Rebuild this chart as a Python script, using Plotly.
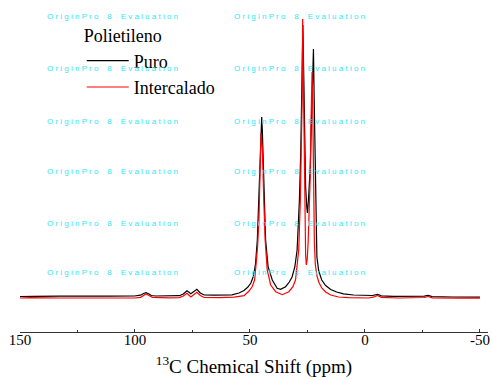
import plotly.graph_objects as go

# ---- data (ppm, intensity in a.u.) ----
puro_ppm = [150.0, 147.4, 145.7, 143.9, 132.7, 124.0, 111.0, 100.2, 97.6, 96.3, 95.2, 93.9, 92.9, 91.1,
            85.1, 80.7, 79.0, 77.4, 75.7, 74.5, 73.1, 71.6, 69.9, 65.6, 61.3, 57.8, 54.8, 52.6, 50.9,
            49.6, 48.5, 47.6, 46.8, 46.3, 45.8, 45.3, 44.9, 44.6, 44.2, 43.8, 43.2, 42.1, 40.3, 38.2,
            36.7, 34.5, 32.9, 31.7, 30.5, 29.5, 28.9, 28.5, 27.9, 27.4, 27.0, 26.6, 26.2, 25.8, 25.3,
            25.0, 24.5, 23.8, 23.4, 23.0, 22.4, 22.1, 21.7, 21.4, 20.9, 20.1, 18.8, 17.1, 14.9, 12.3,
            9.3, 5.0, -0.7, -3.2, -5.5, -7.1, -12.3, -21.0, -22.7, -24.0, -25.8, -27.5, -29.2, -38.3, -50.0]
puro_int = [0.5, 0.6, 1.2, 0.6, 0.8, 0.6, 0.8, 1.0, 1.8, 3.5, 4.3, 3.0, 1.5, 1.0,
            1.0, 1.3, 3.0, 6.3, 3.2, 5.5, 7.7, 4.0, 2.0, 1.8, 1.8, 2.2, 4.0, 6.5, 10,
            14, 21, 33, 57, 85, 114, 155, 180, 165, 135, 97, 57, 30, 17, 8.7,
            7.7, 10.3, 15, 20, 30, 47, 72, 97, 147, 210, 272, 220, 150, 110, 90,
            84, 100, 130, 165, 210, 248, 200, 130, 80, 40, 26, 17, 11.5, 7.5, 5,
            3.2, 2, 1.2, 1.5, 2.7, 1.2, 0.6, 0.3, 0.9, 0.5, 0.8, 1.6, 0.4, 0, -0.2]

inter_ppm = [150.0, 145.7, 132.7, 115.4, 100.2, 97.6, 96.3, 95.2, 93.9, 92.4, 85.1, 80.7, 79.0, 77.4,
             75.7, 74.5, 73.1, 71.6, 69.9, 63.4, 56.9, 52.6, 50.4, 49.0, 48.0, 47.5, 46.7, 46.1, 45.5,
             45.2, 44.9, 44.6, 44.0, 43.4, 42.5, 41.0, 38.8, 36.0, 33.1, 31.4, 30.2, 29.5, 28.8, 28.1,
             27.6, 27.3, 27.1, 26.8, 26.5, 26.3, 26.0, 25.8, 25.5, 25.1, 24.7, 24.3, 23.8, 23.5, 23.0,
             22.7, 22.4, 22.0, 21.6, 21.0, 20.1, 18.8, 17.1, 14.9, 11.5, 7.2, -1.5, -3.6, -5.5, -7.1,
             -14.5, -22.7, -24.0, -25.8, -27.5, -29.2, -40.6, -50.0]
inter_int = [-1.0, -0.6, -1.0, -1.2, -1.0, -0.3, 1.8, 3.0, 1.5, -0.3, -0.8, -0.6, 1.0, 3.7,
             0, 2.5, 4.7, 1.5, -0.5, -0.6, -0.2, 1.3, 6, 10.5, 17, 28.7, 50, 77, 130,
             164, 155, 147, 97, 57, 27, 12, 5.3, 2.3, 5.3, 10, 17, 30, 47, 97,
             147, 200, 278, 220, 150, 100, 65, 42, 32, 38, 55, 80, 120, 170, 225,
             190, 120, 55, 33, 22, 15, 9, 5, 2, 0, -0.6, -1.0, -0.2, 1.6, -0.4,
             -1.0, -0.5, -1.0, -0.5, 0.5, -0.8, -1.1, -1.2]

tick_vals = [150, 100, 50, 0, -50]
tick_text = ["150", "100", "50", "0", "-50"]

SERIF = "Liberation Serif, Times New Roman, serif"

fig = go.Figure()
fig.add_trace(go.Scatter(x=puro_ppm, y=puro_int, mode="lines", name="Puro",
                         line=dict(color="black", width=1.2)))
fig.add_trace(go.Scatter(x=inter_ppm, y=inter_int, mode="lines", name="Intercalado",
                         line=dict(color="red", width=1.2)))

# watermark
W, H = 492, 380
ml, mr, mt, mb = 20, 2, 10, 48
pw, ph = W - ml - mr, H - mt - mb
wm = "O r i g i n P r o    8    E v a l u a t i o n"
for py in [17, 69, 121, 172, 223, 272]:
    for px in [45, 233]:
        fig.add_annotation(text=wm, xref="paper", yref="paper",
                           x=(px - ml) / pw, y=(H - mb - py) / ph,
                           xanchor="left", yanchor="middle", showarrow=False,
                           font=dict(family="Liberation Sans, Arial", size=8, color="#2ee8f8"))

fig.update_layout(
    width=W, height=H,
    margin=dict(l=ml, r=mr, t=mt, b=mb, pad=0),
    paper_bgcolor="white", plot_bgcolor="white",
    showlegend=True,
    legend=dict(title=dict(text="Polietileno", font=dict(family=SERIF, size=18, color="black")),
                font=dict(family=SERIF, size=18, color="black"),
                x=(82 - ml) / pw, y=(H - mb - 19) / ph, xanchor="left", yanchor="top",
                bgcolor="rgba(0,0,0,0)", itemwidth=42, tracegroupgap=0),
    xaxis=dict(range=[150, -53.5], showgrid=False, zeroline=False,
               showline=True, linecolor="#333", linewidth=1,
               ticks="inside", ticklen=3, tickcolor="#333",
               tickvals=tick_vals, ticktext=tick_text, ticklabelstandoff=-6,
               minor=dict(dtick=25, ticks="inside", ticklen=2, tickcolor="#333"),
               tickfont=dict(family=SERIF, size=15, color="black"),
               title=dict(text="<sup>13</sup>C Chemical Shift (ppm)",
                          font=dict(family=SERIF, size=19, color="black"), standoff=12)),
    yaxis=dict(visible=False, range=[-35, 287]),
)

fig.write_html("out.html")
